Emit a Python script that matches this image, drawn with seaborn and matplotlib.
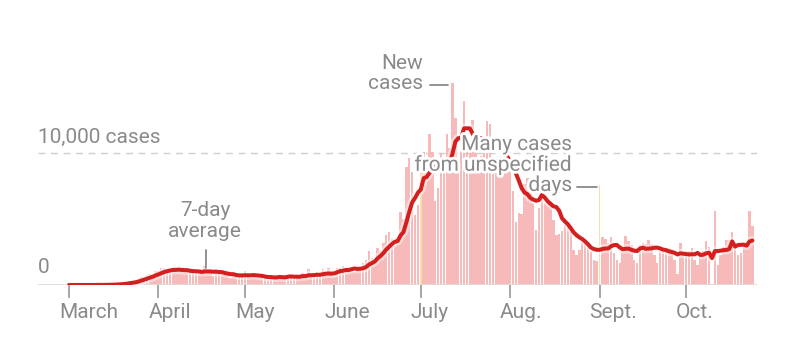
import numpy as np
import pandas as pd
import seaborn as sns
import matplotlib.pyplot as plt
import matplotlib.dates as mdates
import matplotlib.patheffects as pe
from matplotlib.transforms import ScaledTranslation

# daily new cases
march = [2, 0, 1, 0, 1, 3, 4, 4, 2, 5, 6, 13, 18, 27, 30, 35, 57, 97, 130, 132,
         200, 268, 259, 329, 457, 634, 616, 737, 832, 741, 1029]
april = [1025, 1278, 1260, 1119, 1240, 1029, 1085, 1148, 1148, 1113,
         1117, 876, 873, 1014, 1065, 845, 1413, 1074, 891, 713,
         1110, 834, 823, 960, 766, 553, 689, 680, 621, 820]
may = [1038, 735, 551, 819, 542, 527, 614, 730, 402, 602,
       606, 540, 750, 527, 625, 777, 713, 475, 509, 736,
       889, 611, 1204, 780, 510, 739, 666, 1216, 896, 1275, 738]
june = [617, 1317, 1286, 1419, 1305, 1270, 1180, 966, 1096, 1371,
        1698, 1902, 2581, 2016, 1758, 2783, 2610, 3207, 3822, 4049,
        3494, 2926, 3289, 5508, 5004, 8942, 9585, 8530, 5266, 6093]
july = [9500, 10109, 9488, 11458, 10059, 6336, 7347, 9989, 8935, 11433,
        10360, 15300, 12624, 9194, 10181, 13965, 11466, 10328, 12478, 10347,
        9440, 9785, 10249, 12444, 12199, 9344, 8892, 9230, 9446, 9956, 9007]
aug = [9642, 7104, 4752, 5446, 5409, 7650, 8124, 7686, 6229, 4155,
       5831, 8109, 6236, 6148, 6352, 4900, 3779, 3838, 4115, 4555,
       4684, 4311, 2674, 2258, 2673, 3220, 3269, 3197, 2583, 1885, 1838]
sept = [7569, 3600, 3500, 3200, 3600, 2400, 1900, 1700, 2700, 3700,
        3300, 3000, 1900, 1700, 3000, 3200, 3100, 3400, 3100, 2300,
        1700, 2600, 2600, 2800, 2800, 2700, 1900, 800, 3200, 2400]
octo = [2600, 2600, 2800, 1900, 1500, 2100, 2600, 3300, 2900, 0,
        5600, 1500, 2300, 2900, 3400, 3400, 4000, 2900, 2300, 2400,
        3000, 2900, 5600, 4500]

unspecified_days = ["2020-07-01", "2020-09-01"]
month_labels = ["March", "April", "May", "June", "July", "Aug.", "Sept.", "Oct."]

dates = pd.date_range("2020-03-01", "2020-10-24")
cases = march + april + may + june + july + aug + sept + octo

df = pd.DataFrame({"date": dates, "cases": cases})
df["unspecified"] = df["date"].isin(pd.to_datetime(unspecified_days))
# 7-day average leaves out the backlog days
df["avg"] = df["cases"].where(~df["unspecified"]).rolling(7, min_periods=1).mean()

sns.set_style("white")
plt.rcParams["font.family"] = ["Roboto", "DejaVu Sans"]

grey = "#8a8a8a"
fs = 15
fig = plt.figure(figsize=(7.87, 3.51), dpi=100)
ax = fig.add_axes([38 / 787, 1 - 285 / 351, 719 / 787, 265 / 351])

normal = df[~df["unspecified"]]
backlog = df[df["unspecified"]]
ax.bar(normal["date"], normal["cases"], width=0.85, color="#f6baba", linewidth=0)
ax.bar(backlog["date"], backlog["cases"], width=0.6, color="#f8dfa6", linewidth=0)

ax.axhline(10000, color="#cfcfcf", lw=1, ls=(0, (5, 4)), zorder=0)
ax.axhline(0, color="#dcdcdc", lw=2, zorder=1)

sns.lineplot(data=df, x="date", y="avg", ax=ax, color="#d41f1f", lw=2.9,
             solid_capstyle="round",
             path_effects=[pe.Stroke(linewidth=6.5, foreground="white", alpha=0.45), pe.Normal()])

start = mdates.date2num(pd.Timestamp("2020-03-01"))
ax.set_xlim(start - 10.75, start + 238.6)
ax.set_ylim(0, 20076)
sns.despine(ax=ax, left=True, bottom=True)
ax.set_yticks([])
ax.set_xlabel("")
ax.set_ylabel("")

ax.set_xticks(pd.date_range("2020-03-01", "2020-10-01", freq="MS"))
ax.set_xticklabels(month_labels)
ax.tick_params(axis="x", length=9, width=1.3, color="#a0a0a0", pad=4,
               labelsize=fs, labelcolor=grey, bottom=True)
shift = ScaledTranslation(-10 / 100, 0, fig.dpi_scale_trans)
for lab in ax.get_xticklabels():
    lab.set_ha("left")
    lab.set_transform(lab.get_transform() + shift)

ax.annotate("10,000 cases", xy=(0, 10000), xycoords=("axes fraction", "data"),
            xytext=(0, 11.5), textcoords="offset points", va="center", ha="left",
            fontsize=fs, color=grey)
ax.annotate("0", xy=(0, 0), xycoords=("axes fraction", "data"),
            xytext=(0, 12.5), textcoords="offset points", va="center", ha="left",
            fontsize=fs, color=grey)

def day(n):
    return start + n

ax.text(day(122.8), 16000, "New\ncases", ha="right", va="center", multialignment="right",
        fontsize=fs, color=grey, linespacing=1.08)
ax.plot([day(125.2), day(131.5)], [15150, 15150], color=grey, lw=1.3)

ax.text(day(47.2), 4850, "7-day\naverage", ha="center", va="center",
        fontsize=fs, color=grey, linespacing=1.08)
ax.plot([day(47.5), day(47.5)], [1290, 2650], color=grey, lw=1.3)

ax.text(day(174.5), 9090, "Many cases\nfrom unspecified\ndays", ha="right", va="center",
        multialignment="right", fontsize=fs, color=grey, linespacing=1.08,
        path_effects=[pe.withStroke(linewidth=4, foreground="white")], zorder=5)
ax.plot([day(176.2), day(183.1)], [7425, 7425], color=grey, lw=1.3)

fig.savefig("out.png", dpi=100)
